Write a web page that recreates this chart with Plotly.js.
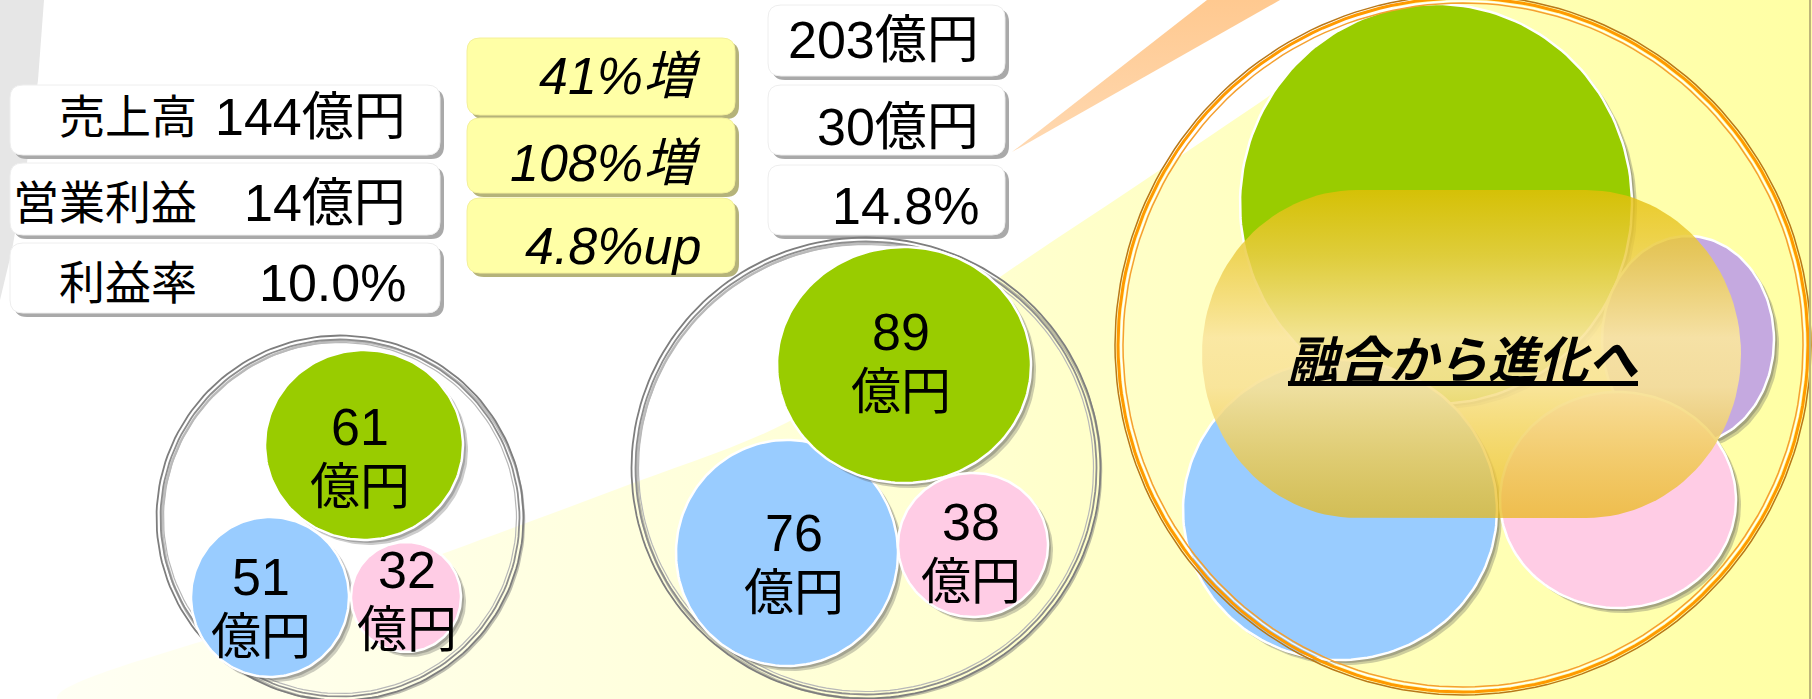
<!DOCTYPE html>
<html>
<head>
<meta charset="utf-8">
<script src="https://cdn.plot.ly/plotly-3.0.1.min.js"></script>
<style>html,body{margin:0;padding:0;background:#fff;}#chart{width:1812px;height:699px;}</style>
</head>
<body>
<div id="chart"></div>
<script>
// ---------------- data ----------------
const beforeLabels = ['売上高', '営業利益', '利益率'];
const beforeValues = ['144億円', '14億円', '10.0%'];
const growthLabels = ['41%増', '108%増', '4.8%up'];
const afterValues  = ['203億円', '30億円', '14.8%'];
const segmentUnit  = '億円';
const smallSegments = [61, 51, 32];   // green, blue, pink
const midSegments   = [89, 76, 38];   // green, blue, pink
const slogan = '融合から進化へ';

// ---------------- layout geometry (positions only) ----------------
const W = 1812, H = 699;
const FONT = 'Liberation Sans, Arial, Noto Sans CJK JP, sans-serif';
const segColors = ['#99CC00', '#99CCFF', '#FFCCE5'];

const leftBoxes  = {x0: 10, x1: 440, rows: [[85,155],[163,235],[243,313]], labelX: 199, valueX: 408, textY: [117, 203, 283]};
const growthBoxes = {x0: 467, x1: 735, rows: [[38,115],[118,193],[198,273]], textX: 703, textY: [76, 163, 246]};
const rightBoxes = {x0: 768, x1: 1005, rows: [[5,76],[85,155],[165,235]], textX: 981, textY: [40, 127, 206]};

const smallGroup = {ring: [340, 518, 181, 180],
  circles: [[364, 445, 99, 95], [270, 597, 79, 80], [406, 597, 55, 55]],
  labels: [[360, 427, 487], [261, 577, 637], [407, 570, 630]], order: [0, 1, 2]};
const midGroup = {ring: [866, 468, 232, 228],
  circles: [[904, 365, 127, 118], [787, 553, 111, 113], [973, 545, 75, 72]],
  labels: [[901, 332, 392], [794, 533, 593], [971, 522, 582]], order: [1, 0, 2]};
const rightGroup = {ring: [1463, 345, 345, 347],
  circles: [[1436, 204, 196, 200, '#99CC00'], [1688, 340, 86, 104, '#C5A9E0'], [1340, 510, 157, 150, '#99CCFF'], [1618, 500, 118, 108, '#FFCCE5']]};
const overlay = {x0: 1202, x1: 1741, y0: 190, y1: 518, r: 155};
const sloganPos = [1463, 356];

// ---------------- helpers ----------------
const traces = [];
function ell(cx, cy, rx, ry, n) {
  n = n || 180; const xs = [], ys = [];
  for (let i = 0; i <= n; i++) { const t = 2 * Math.PI * i / n; xs.push(cx + rx * Math.cos(t)); ys.push(cy + ry * Math.sin(t)); }
  return [xs, ys];
}
function poly(xs, ys, fillcolor, extra) {
  traces.push(Object.assign({type: 'scatter', mode: 'lines', x: xs, y: ys, fill: 'toself', fillcolor: fillcolor,
    line: {width: 0, color: 'rgba(0,0,0,0)'}, hoverinfo: 'skip', showlegend: false}, extra || {}));
}
function line(xs, ys, color, width) {
  traces.push({type: 'scatter', mode: 'lines', x: xs, y: ys, line: {color: color, width: width}, hoverinfo: 'skip', showlegend: false});
}
function disc(cx, cy, rx, ry, color) {
  let p = ell(cx + 5, cy + 5, rx, ry); poly(p[0], p[1], 'rgba(90,90,90,0.30)');
  p = ell(cx + 3, cy + 3, rx, ry); poly(p[0], p[1], 'rgba(90,90,90,0.35)');
  p = ell(cx, cy, rx, ry);
  traces.push({type: 'scatter', mode: 'lines', x: p[0], y: p[1], fill: 'toself', fillcolor: color,
    line: {color: '#FFFFFF', width: 2.5}, hoverinfo: 'skip', showlegend: false});
}
function grayRing(r) {
  let p = ell(r[0] + 3, r[1] + 3, r[2], r[3]); line(p[0], p[1], 'rgba(110,110,110,0.45)', 2.5);
  p = ell(r[0], r[1], r[2] + 2.5, r[3] + 2.5); line(p[0], p[1], '#7E7E7E', 1.8);
  p = ell(r[0], r[1], r[2] - 1.5, r[3] - 1.5); line(p[0], p[1], '#8E8E8E', 1.8);
  p = ell(r[0], r[1], r[2] - 4.5, r[3] - 4.5); line(p[0], p[1], '#B8B8B8', 1.2);
}
function rrPath(x0, y0, x1, y1, r) {
  return `M ${x0 + r},${y0} L ${x1 - r},${y0} Q ${x1},${y0} ${x1},${y0 + r} L ${x1},${y1 - r} Q ${x1},${y1} ${x1 - r},${y1} ` +
         `L ${x0 + r},${y1} Q ${x0},${y1} ${x0},${y1 - r} L ${x0},${y0 + r} Q ${x0},${y0} ${x0 + r},${y0} Z`;
}

// ---------------- background ----------------
const bgX = [57, 250, 453, 620, 786, 900, 1000, 1130, 1259, 1413, W, W, 57];
const bgY = [H, 625, 550, 488, 423, 350, 277, 190, 103, 0, 0, H, H];
poly(bgX, bgY, '#FFFFCC', {line: {width: 0, shape: 'spline', color: 'rgba(0,0,0,0)'},
  fillgradient: {type: 'horizontal', start: 57, stop: W, colorscale: [[0, '#FFFFF4'], [0.5, '#FFFFD2'], [1, '#FFFFA4']]}});
// peach wedge
poly([1012, 1207, 1280, 1012], [152, 0, 0, 152], '#FFCC99',
  {fillgradient: {type: 'vertical', start: 0, stop: 152, colorscale: [[0, '#FFC990'], [1, '#FFD9B2']]}});

// ---------------- groups ----------------
function drawGroup(g) {
  grayRing(g.ring);
  g.order.forEach(i => { const c = g.circles[i]; disc(c[0], c[1], c[2], c[3], segColors[i]); });
}
drawGroup(smallGroup);
drawGroup(midGroup);

rightGroup.circles.forEach(c => disc(c[0], c[1], c[2], c[3], c[4]));

// translucent capsule
(function () {
  const o = overlay, cy = (o.y0 + o.y1) / 2, ry = (o.y1 - o.y0) / 2, xs = [], ys = [];
  const xl = o.x0 + o.r, xr = o.x1 - o.r;
  for (let i = 0; i <= 60; i++) { const t = -Math.PI / 2 + Math.PI * i / 60; xs.push(xr + o.r * Math.cos(t)); ys.push(cy + ry * Math.sin(t)); }
  for (let i = 0; i <= 60; i++) { const t = Math.PI / 2 + Math.PI * i / 60; xs.push(xl + o.r * Math.cos(t)); ys.push(cy + ry * Math.sin(t)); }
  xs.push(xs[0]); ys.push(ys[0]);
  poly(xs, ys, 'rgba(240,210,120,0.8)', {fillgradient: {type: 'vertical', start: o.y0, stop: o.y1,
    colorscale: [[0, 'rgba(228,190,8,0.80)'], [0.2, 'rgba(236,205,70,0.84)'], [0.45, 'rgba(250,230,160,0.92)'], [0.6, 'rgba(248,226,150,0.90)'], [1, 'rgba(232,184,20,0.72)']]}});
})();

// orange ring
(function () {
  const r = rightGroup.ring;
  let p = ell(r[0], r[1], r[2] + 3, r[3] + 3); line(p[0], p[1], '#B87818', 1.5);
  p = ell(r[0], r[1], r[2], r[3]); line(p[0], p[1], '#FF9A00', 3);
  p = ell(r[0], r[1], r[2] - 3, r[3] - 3); line(p[0], p[1], '#FFFFFF', 1.2);
  p = ell(r[0], r[1], r[2] - 5, r[3] - 5); line(p[0], p[1], '#F5A030', 1.5);
})();

// ---------------- boxes (shapes) ----------------
const shapes = [];
shapes.push({type: 'path', layer: 'below', path: 'M 0,0 L 44,0 L 38,80 L 26,170 L 12,250 L 0,300 Z', fillcolor: '#E6E6E6', line: {width: 0}});
function boxes(b, fill, shadow, outline) {
  b.rows.forEach(r => {
    shapes.push({type: 'path', layer: 'below', path: rrPath(b.x0 + 4, r[0] + 4, b.x1 + 4, r[1] + 4, 13), fillcolor: shadow, line: {width: 0}});
    shapes.push({type: 'path', layer: 'below', path: rrPath(b.x0, r[0], b.x1, r[1], 13), fillcolor: fill, line: {width: 1, color: outline}});
  });
}
boxes(leftBoxes, '#FFFFFF', '#A9A9A9', '#EEEEEE');
boxes(growthBoxes, '#FFFFA6', '#B5B37A', '#F4F09A');
boxes(rightBoxes, '#FFFFFF', '#A9A9A9', '#EEEEEE');
shapes.push({type: 'line', layer: 'above', x0: 1810, x1: 1810, y0: 0, y1: H, line: {color: '#BDB57A', width: 2}});

// ---------------- text ----------------
const ann = [];
function txt(x, y, text, anchor, size, extraFont) {
  ann.push({x: x, y: y, xref: 'x', yref: 'y', text: text, showarrow: false, xanchor: anchor, yanchor: 'middle',
    font: Object.assign({family: FONT, size: size, color: '#000000'}, extraFont || {})});
}
beforeLabels.forEach((t, i) => txt(leftBoxes.labelX, leftBoxes.textY[i], t, 'right', 46));
beforeValues.forEach((t, i) => txt(leftBoxes.valueX, leftBoxes.textY[i], t, 'right', 52));
growthLabels.forEach((t, i) => txt(growthBoxes.textX, growthBoxes.textY[i], '<i>' + t + '</i>', 'right', 52));
afterValues.forEach((t, i) => txt(rightBoxes.textX, rightBoxes.textY[i], t, 'right', 52));
function groupLabels(g, values) {
  values.forEach((v, i) => { const l = g.labels[i]; txt(l[0], l[1], String(v), 'center', 52); txt(l[0], l[2], segmentUnit, 'center', 50); });
}
groupLabels(smallGroup, smallSegments);
groupLabels(midGroup, midSegments);
txt(sloganPos[0], sloganPos[1], '<b><i><u>' + slogan + '</u></i></b>', 'center', 50, {family: 'Noto Sans CJK JP, sans-serif', weight: 900});

const layout = {
  width: W, height: H, margin: {l: 0, r: 0, t: 0, b: 0}, paper_bgcolor: '#FFFFFF', plot_bgcolor: '#FFFFFF',
  xaxis: {range: [0, W], visible: false, fixedrange: true},
  yaxis: {range: [H, 0], visible: false, fixedrange: true},
  showlegend: false, shapes: shapes, annotations: ann, hovermode: false
};
Plotly.newPlot('chart', traces, layout, {staticPlot: true, displayModeBar: false});
</script>
</body>
</html>
